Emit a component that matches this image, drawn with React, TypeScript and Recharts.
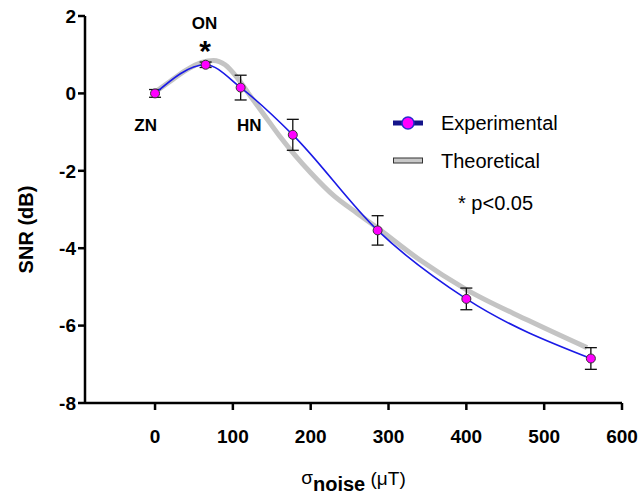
import { ComposedChart, Line, XAxis, YAxis, ErrorBar, ReferenceDot } from 'recharts';

const FONT = '"Liberation Sans", Arial, sans-serif';

// measured SNR at each noise level (mean +/- error)
const noiseLevels = [0, 65, 110, 177, 286, 400, 560];
const snrMeasured = [0.0, 0.74, 0.15, -1.07, -3.54, -5.31, -6.85];
const snrError = [0.1, 0.07, 0.32, 0.4, 0.38, 0.28, 0.28];

// theoretical curve
const theoryNoise = [0, 20, 40, 60, 75, 90, 105, 120, 140, 160, 180, 200, 230, 260, 286, 340, 400, 480, 555];
const snrTheory = [0.03, 0.32, 0.6, 0.8, 0.85, 0.74, 0.42, 0.0, -0.55, -1.1, -1.6, -2.05, -2.65, -3.1, -3.48, -4.3, -5.07, -5.87, -6.57];

const xTicks = [0, 100, 200, 300, 400, 500, 600];
const yTicks = [-8, -6, -4, -2, 0, 2];

const experimental = noiseLevels.map((x, i) => ({ x, snr: snrMeasured[i], err: snrError[i] }));
const theoretical = theoryNoise.map((x, i) => ({ x, snr: snrTheory[i] }));

const YTitle = ({ viewBox }: any) => {
    const cx = viewBox.x + 33;
    const cy = viewBox.y + viewBox.height / 2 + 20;
    return (
        <text x={cx} y={cy} transform={`rotate(-90, ${cx}, ${cy})`} textAnchor="middle"
            fontFamily={FONT} fontSize={20} fontWeight={700} fill="#000">
            SNR (dB)
        </text>
    );
};

const XTitle = ({ viewBox }: any) => {
    const cx = viewBox.x + viewBox.width / 2;
    const base = viewBox.y + 81;
    return (
        <text x={cx} y={base} textAnchor="middle" fontFamily={FONT} fill="#000">
            <tspan fontSize={19}>σ</tspan>
            <tspan fontSize={20} fontWeight={700} dy={7}>noise</tspan>
            <tspan fontSize={19} dy={-6}> (μT)</tspan>
        </text>
    );
};

const annLabel = (value: string, size = 17) => ({
    value,
    position: 'center' as const,
    fill: '#000',
    fontSize: size,
    fontWeight: 700,
    fontFamily: FONT,
});

const LegendBox = () => (
    <div style={{ position: 'absolute', left: 0, top: 0, fontFamily: FONT, fontSize: 20, color: '#000' }}>
        <svg width={30} height={14} style={{ position: 'absolute', left: 393, top: 116 }}>
            <line x1={0} y1={7} x2={30} y2={7} stroke="#14148a" strokeWidth={5} />
            <circle cx={15} cy={7} r={6} fill="#ff00ff" stroke="#2a2ad0" strokeWidth={1.5} />
        </svg>
        <div style={{ position: 'absolute', left: 441, top: 111, whiteSpace: 'nowrap', lineHeight: '24px' }}>Experimental</div>
        <svg width={30} height={10} style={{ position: 'absolute', left: 393, top: 156 }}>
            <rect x={0.5} y={2} width={29} height={5} fill="#c8c8c8" stroke="#333" strokeWidth={1} />
        </svg>
        <div style={{ position: 'absolute', left: 441, top: 149, whiteSpace: 'nowrap', lineHeight: '24px' }}>Theoretical</div>
        <div style={{ position: 'absolute', left: 458, top: 191, whiteSpace: 'nowrap', lineHeight: '24px' }}>* p&lt;0.05</div>
    </div>
);

export default function App() {
    const axisStroke = { stroke: '#000', strokeWidth: 2.5 };
    const tickStyle = { fill: '#000', fontSize: 19, fontWeight: 700, fontFamily: FONT };

    return (
        <div style={{ position: 'absolute', left: 0, top: 0, width: 640, height: 495, background: '#fff' }}>
            <ComposedChart width={640} height={495} margin={{ top: 16, right: 18, bottom: 0, left: 0 }}>
                <XAxis
                    dataKey="x"
                    type="number"
                    domain={[-90, 600]}
                    ticks={xTicks}
                    allowDataOverflow
                    height={92}
                    axisLine={axisStroke}
                    tickLine={axisStroke}
                    tickSize={7}
                    tickMargin={20}
                    tick={tickStyle}
                    label={<XTitle />}
                />
                <YAxis
                    type="number"
                    domain={[-8, 2]}
                    ticks={yTicks}
                    allowDataOverflow
                    width={85}
                    axisLine={axisStroke}
                    tickLine={axisStroke}
                    tickSize={7}
                    tickMargin={2}
                    tick={tickStyle}
                    label={<YTitle />}
                />
                <Line
                    data={theoretical}
                    dataKey="snr"
                    type="monotone"
                    stroke="#c4c4c4"
                    strokeWidth={5}
                    dot={false}
                    activeDot={false}
                    isAnimationActive={false}
                />
                <Line
                    data={experimental}
                    dataKey="snr"
                    type="monotone"
                    stroke="#1a1ae6"
                    strokeWidth={1.6}
                    dot={{ r: 4.5, fill: '#ff00ff', stroke: '#333', strokeWidth: 1 }}
                    activeDot={false}
                    isAnimationActive={false}
                >
                    <ErrorBar dataKey="err" direction="y" width={6} stroke="#111" strokeWidth={1.3} isAnimationActive={false} />
                </Line>
                <ReferenceDot x={-12} y={-0.82} r={0} stroke="none" label={annLabel('ZN')} />
                <ReferenceDot x={121} y={-0.82} r={0} stroke="none" label={annLabel('HN')} />
                <ReferenceDot x={63.6} y={1.83} r={0} stroke="none" label={annLabel('ON')} />
                <ReferenceDot x={64.3} y={1.1} r={0} stroke="none" label={annLabel('*', 30)} />
            </ComposedChart>
            <LegendBox />
        </div>
    );
}
